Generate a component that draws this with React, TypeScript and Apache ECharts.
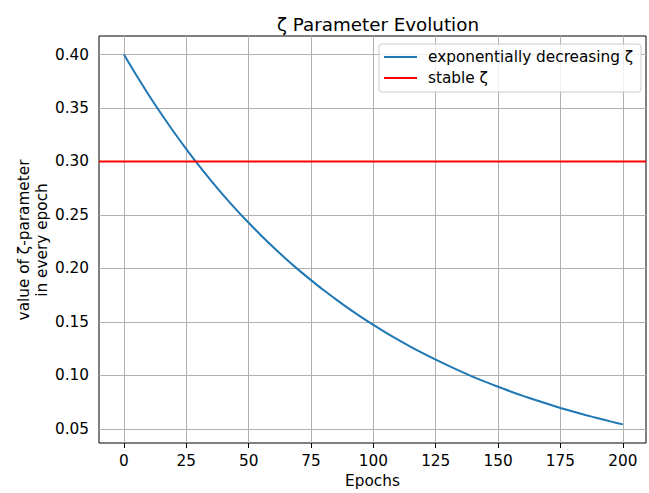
import React, { useEffect, useRef } from "react";
import * as echarts from "echarts";

const epochs = [0, 5, 10, 15, 20, 25, 30, 35, 40, 45, 50, 55, 60, 65, 70, 75, 80, 85, 90, 95, 100, 105, 110, 115, 120, 125, 130, 135, 140, 145, 150, 155, 160, 165, 170, 175, 180, 185, 190, 195, 200];
const zetaValues = [0.4, 0.3805, 0.3619, 0.3443, 0.3275, 0.3115, 0.2963, 0.2819, 0.2681, 0.255, 0.2426, 0.2308, 0.2195, 0.2088, 0.1986, 0.189, 0.1797, 0.171, 0.1626, 0.1547, 0.1472, 0.14, 0.1332, 0.1267, 0.1205, 0.1146, 0.109, 0.1037, 0.0986, 0.0938, 0.0893, 0.0849, 0.0808, 0.0769, 0.0731, 0.0695, 0.0661, 0.0629, 0.0599, 0.0569, 0.0541];
const stableZeta = 0.3;
const xTicks = [0, 25, 50, 75, 100, 125, 150, 175, 200];
const yTicks = [0.05, 0.1, 0.15, 0.2, 0.25, 0.3, 0.35, 0.4];
const legendNames = ["exponentially decreasing ζ", "stable ζ"];
const seriesColors = ["#1f77b4", "#ff0000"];
const xMin = -10;
const xMax = 209.3;
const yMin = 0.0367;
const yMax = 0.4173;

const FONT = "DejaVu Sans";
const FS = 15.3;

export default function App() {
  const ref = useRef<HTMLDivElement>(null);
  useEffect(() => {
    if (!ref.current) return;
    const chart = echarts.init(ref.current, undefined, { renderer: "svg" });
    const gridLineData: any[] = [
      ...xTicks.map((v) => ({ xAxis: v })),
      ...yTicks.map((v) => ({ yAxis: v })),
    ];
    const legendGraphics: any[] = [
      {
        type: "rect",
        shape: { x: 379, y: 44, width: 262, height: 48, r: 3 },
        style: { fill: "rgba(255,255,255,0.8)", stroke: "#cccccc", lineWidth: 1 },
        z: 10,
      },
    ];
    legendNames.forEach((name, i) => {
      const y = 57 + i * 21;
      legendGraphics.push({
        type: "line",
        shape: { x1: 384, y1: y, x2: 417, y2: y },
        style: { stroke: seriesColors[i], lineWidth: 2 },
        z: 11,
      });
      legendGraphics.push({
        type: "text",
        x: 428,
        y: y,
        style: {
          text: name,
          fontFamily: FONT,
          fontSize: FS,
          fill: "#000",
          align: "left",
          verticalAlign: "middle",
        },
        z: 11,
      });
    });
    chart.setOption({
      animation: false,
      backgroundColor: "#ffffff",
      title: {
        text: "ζ Parameter Evolution",
        left: 373,
        top: 10,
        textAlign: "center",
        textStyle: { fontFamily: FONT, fontSize: 18.3, fontWeight: "normal", color: "#000" },
      },
      grid: {
        left: 99,
        right: 3,
        top: 36,
        bottom: 48,
        show: true,
        borderColor: "#000",
        borderWidth: 1,
        backgroundColor: "transparent",
        containLabel: false,
      },
      xAxis: {
        type: "value",
        min: xMin,
        max: xMax,
        name: "Epochs",
        nameLocation: "middle",
        nameGap: 30,
        nameTextStyle: { fontFamily: FONT, fontSize: FS, color: "#000" },
        axisLine: { show: false },
        axisTick: { show: true, inside: false, length: 5, lineStyle: { color: "#000" }, customValues: xTicks },
        axisLabel: { show: true, margin: 10, fontFamily: FONT, fontSize: FS, color: "#000", customValues: xTicks },
        splitLine: { show: false },
      },
      yAxis: {
        type: "value",
        min: yMin,
        max: yMax,
        axisLine: { show: false },
        axisTick: { show: true, inside: false, length: 5, lineStyle: { color: "#000" }, customValues: yTicks },
        axisLabel: {
          show: true,
          margin: 10,
          fontFamily: FONT,
          fontSize: FS,
          color: "#000",
          customValues: yTicks,
          formatter: (v: number) => v.toFixed(2),
        },
        splitLine: { show: false },
      },
      graphic: [
        {
          type: "text",
          x: 33,
          y: 240,
          rotation: Math.PI / 2,
          style: {
            text: "value of ζ-parameter\nin every epoch",
            fontFamily: FONT,
            fontSize: FS,
            fill: "#000",
            align: "center",
            verticalAlign: "middle",
            lineHeight: 17.5,
          },
        },
        ...legendGraphics,
      ],
      series: [
        {
          name: "gridlines",
          type: "line",
          data: [],
          silent: true,
          z: 1,
          markLine: {
            silent: true,
            z: 1,
            symbol: "none",
            label: { show: false },
            lineStyle: { color: "#b0b0b0", width: 1, type: "solid" },
            emphasis: { disabled: true },
            data: gridLineData,
          },
        },
        {
          name: legendNames[0],
          type: "line",
          z: 6,
          data: epochs.map((e, i) => [e, zetaValues[i]]),
          showSymbol: false,
          smooth: 0.3,
          lineStyle: { color: seriesColors[0], width: 2 },
          itemStyle: { color: seriesColors[0] },
          emphasis: { disabled: true },
        },
        {
          name: legendNames[1],
          type: "line",
          z: 6,
          data: [
            [xMin, stableZeta],
            [xMax, stableZeta],
          ],
          showSymbol: false,
          lineStyle: { color: seriesColors[1], width: 2 },
          itemStyle: { color: seriesColors[1] },
          emphasis: { disabled: true },
        },
      ],
    });
    return () => chart.dispose();
  }, []);
  return (
    <div
      ref={ref}
      style={{ position: "absolute", left: 0, top: 0, width: 649, height: 493 }}
    />
  );
}
